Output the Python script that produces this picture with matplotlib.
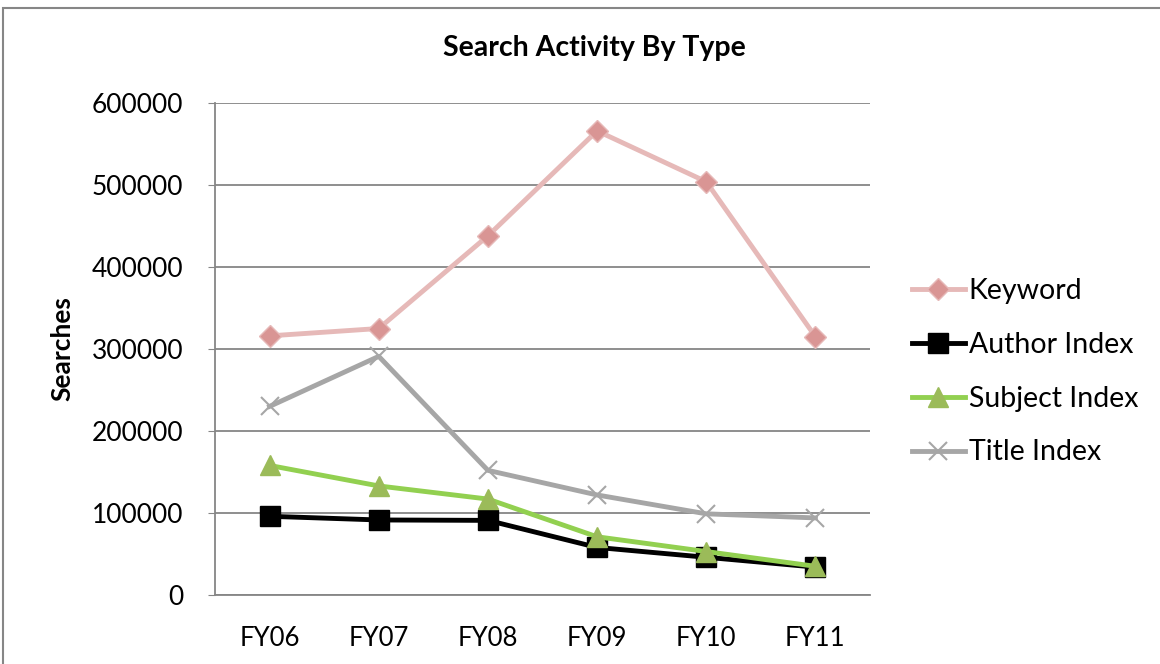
import matplotlib.pyplot as plt
from matplotlib.patches import Rectangle

years = ['FY06', 'FY07', 'FY08', 'FY09', 'FY10', 'FY11']
keyword = [316000, 325000, 438000, 566000, 504000, 315000]
author = [96000, 91500, 91000, 58000, 46000, 34000]
subject = [158000, 133000, 117000, 71000, 53000, 35000]
title_idx = [230000, 291000, 152000, 122000, 99000, 94000]
y_ticks = [0, 100000, 200000, 300000, 400000, 500000, 600000]

plt.rcParams['font.family'] = ['Lato', 'DejaVu Sans']

fig = plt.figure(figsize=(11.6, 6.64), dpi=100)
ax = fig.add_axes([215 / 1160, 69 / 664, 655 / 1160, 492 / 664])

# outer chart border (cut off at right/bottom)
fig.patches.append(Rectangle((3 / 1160, -0.1), 1.2, 1.1 - 8 / 664, transform=fig.transFigure,
                             fill=False, edgecolor='#868686', linewidth=1.5))

x = range(len(years))
ax.plot(x, keyword, color='#E6B9B8', lw=3.5, marker='D', ms=11, mfc='#D99594', mec='#E6B9B8',
        label='Keyword', zorder=3)
ax.plot(x, author, color='black', lw=3.5, marker='s', ms=14, mfc='black', mec='black',
        label='Author Index', zorder=4)
ax.plot(x, subject, color='#92D050', lw=3.5, marker='^', ms=15, mfc='#9BBB59', mec='#9BBB59',
        label='Subject Index', zorder=5)
ax.plot(x, title_idx, color='#A6A6A6', lw=3.5, marker='x', ms=13, mew=1.5, mec='#A6A6A6',
        label='Title Index', zorder=3)

ax.set_xlim(-0.5, 5.5)
ax.set_ylim(0, 600000)
ax.set_xticks(list(x))
ax.set_xticklabels(years)
ax.set_yticks(y_ticks)
ax.set_yticklabels([str(v) for v in y_ticks])
ax.tick_params(axis='x', labelsize=18.5, length=0, pad=22, colors='black')
ax.tick_params(axis='y', labelsize=19, length=5, color='#868686', labelcolor='black', pad=18)
ax.grid(axis='y', color='#868686', lw=1.3)
ax.set_axisbelow(True)
for side in ['top', 'right']:
    ax.spines[side].set_visible(False)
for side in ['left', 'bottom']:
    ax.spines[side].set_color('#868686')
    ax.spines[side].set_linewidth(1.3)

ax.set_ylabel('Searches', fontsize=19, fontweight='bold', labelpad=12)
fig.text(594 / 1160, 1 - 48 / 664, 'Search Activity By Type', ha='center', va='center',
         fontsize=20.5, fontweight='bold')

ax.legend(loc='center left', bbox_to_anchor=(1.064, 0.454), frameon=False, fontsize=20.5,
          borderaxespad=0, borderpad=0,
          handlelength=1.85, handletextpad=0.15, labelspacing=0.98)

fig.savefig('out.png', dpi=100)
